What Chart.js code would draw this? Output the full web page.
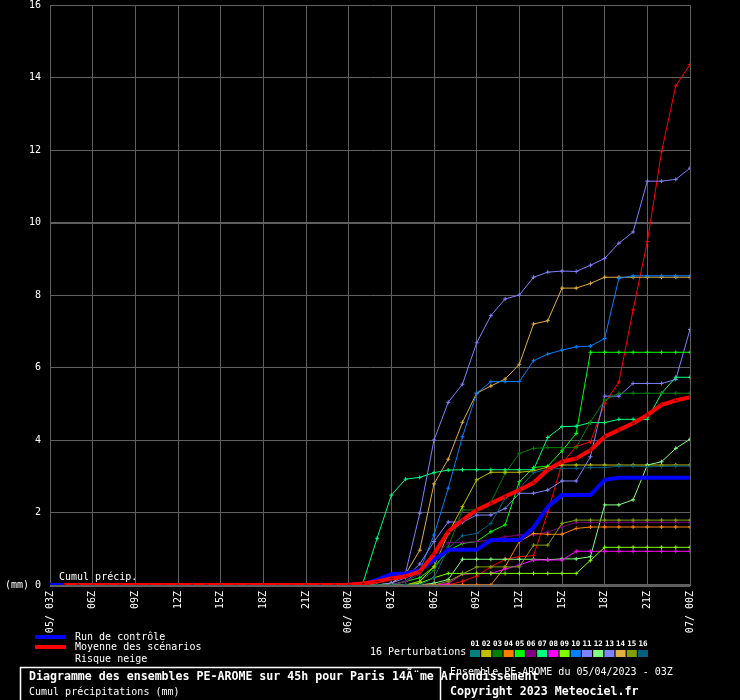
<!DOCTYPE html>
<html>
<head>
<meta charset="utf-8">
<script src="https://cdn.jsdelivr.net/npm/chart.js@4"></script>
<style>
  html, body { margin: 0; background: #000; }
  canvas { display: block; }
</style>
</head>
<body>
<canvas id="chart" width="740" height="700"></canvas>
<script>
// hours after 05/04 03Z
const hours = [0,1,2,3,4,5,6,7,8,9,10,11,12,13,14,15,16,17,18,19,20,21,22,23,24,25,26,27,28,29,30,31,32,33,34,35,36,37,38,39,40,41,42,43,44,45];
const tickLabels = ['05/ 03Z','06Z','09Z','12Z','15Z','18Z','21Z','06/ 00Z','03Z','06Z','09Z','12Z','15Z','18Z','21Z','07/ 00Z'];

// Moyenne des scénarios / Run de contrôle
const meanVals = [null,0,0,0,0,0,0,0,0,0,0,0,0,0,0,0,0,0,0,0,0, 0.01,0.04,0.1,0.18,0.24,0.37,0.85,1.47,1.79,2.07,2.25,2.44,2.62,2.82,3.18,3.4,3.49,3.72,4.09,4.28,4.46,4.69,4.97,5.09,5.18];
const controlVals = [0,0,0,0,0,0,0,0,0,0,0,0,0,0,0,0,0,0,0,0,0, 0,0.02,0.15,0.3,0.32,0.41,0.69,0.97,0.97,0.97,1.24,1.24,1.24,1.58,2.16,2.48,2.48,2.48,2.9,2.96,2.96,2.96,2.96,2.96,2.96];

// perturbations
const redVals = [0,0,0,0,0,0,0,0,0,0,0,0,0,0,0,0,0,0,0,0,0, 0,0,0,0,0,0,0,0,0.1,0.25,0.5,0.71,0.78,0.81,2.0,3.36,3.82,3.95,5.01,5.6,7.59,9.47,11.95,13.77,14.36];
const p02 = [0,0,0,0,0,0,0,0,0,0,0,0,0,0,0,0,0,0,0,0,0, 0,0,0,0,0,0.1,0.5,1.42,2.16,2.9,3.11,3.11,3.11,3.15,3.25,3.31,3.31,3.31,3.31,3.31,3.31,3.31,3.31,3.31,3.31];
const p03 = [0,0,0,0,0,0,0,0,0,0,0,0,0,0,0,0,0,0,0,0,0, 0,0,0,0,0,0.1,0.4,1.05,2.07,2.07,2.28,3.08,3.63,3.77,3.79,3.79,3.79,4.5,5.1,5.29,5.29,5.29,5.29,5.29,5.29];
const p04 = [0,0,0,0,0,0,0,0,0,0,0,0,0,0,0,0,0,0,0,0,0, 0,0,0,0,0,0,0,0,0,0,0,0.5,1.2,1.42,1.4,1.4,1.56,1.6,1.6,1.6,1.6,1.6,1.6,1.6,1.6];
const p05 = [0,0,0,0,0,0,0,0,0,0,0,0,0,0,0,0,0,0,0,0,0, 0,0,0,0,0.1,0.2,0.5,0.95,1.15,1.2,1.47,1.66,2.85,3.24,3.28,3.7,4.18,6.42,6.42,6.42,6.42,6.42,6.42,6.42,6.42];
const p06 = [0,0,0,0,0,0,0,0,0,0,0,0,0,0,0,0,0,0,0,0,0, 0,0,0,0,0.1,0.3,0.8,1.17,1.17,1.2,1.24,1.33,1.38,1.38,1.46,1.6,1.73,1.73,1.73,1.73,1.73,1.73,1.73,1.73,1.73];
const p07 = [0,0,0,0,0,0,0,0,0,0,0,0,0,0,0,0,0,0,0,0,0, 0,0.05,1.29,2.48,2.92,2.97,3.1,3.17,3.18,3.18,3.18,3.18,3.18,3.18,4.07,4.37,4.38,4.48,4.48,4.57,4.57,4.57,5.29,5.73,5.73];
const p08 = [0,0,0,0,0,0,0,0,0,0,0,0,0,0,0,0,0,0,0,0,0, 0,0,0,0,0,0,0,0.04,0.3,0.32,0.32,0.44,0.55,0.69,0.69,0.69,0.93,0.93,0.93,0.93,0.93,0.93,0.93,0.93,0.93];
const p09 = [0,0,0,0,0,0,0,0,0,0,0,0,0,0,0,0,0,0,0,0,0, 0,0,0,0,0,0.05,0.2,0.32,0.32,0.32,0.32,0.32,0.32,0.32,0.32,0.32,0.32,0.68,1.04,1.04,1.04,1.04,1.04,1.04,1.04];
const p10 = [0,0,0,0,0,0,0,0,0,0,0,0,0,0,0,0,0,0,0,0,0, 0,0,0,0,0.1,0.4,1.38,2.67,4.09,5.29,5.61,5.61,5.61,6.19,6.37,6.48,6.57,6.59,6.8,8.46,8.53,8.53,8.53,8.53,8.53];
const p11 = [0,0,0,0,0,0,0,0,0,0,0,0,0,0,0,0,0,0,0,0,0, 0,0,0,0.05,0.33,1.98,4.0,5.04,5.54,6.68,7.43,7.89,8.0,8.49,8.63,8.66,8.65,8.82,9.01,9.43,9.74,11.14,11.14,11.19,11.5];
const p12 = [0,0,0,0,0,0,0,0,0,0,0,0,0,0,0,0,0,0,0,0,0, 0,0,0,0,0,0,0.05,0.15,0.71,0.71,0.71,0.71,0.71,0.71,0.7,0.72,0.72,0.78,2.21,2.21,2.35,3.31,3.4,3.77,4.02];
const p13 = [0,0,0,0,0,0,0,0,0,0,0,0,0,0,0,0,0,0,0,0,0, 0,0,0,0.05,0.2,0.58,1.2,1.74,1.73,1.93,1.93,2.11,2.53,2.53,2.62,2.87,2.87,3.54,5.21,5.21,5.56,5.56,5.56,5.67,7.05];
const p14 = [0,0,0,0,0,0,0,0,0,0,0,0,0,0,0,0,0,0,0,0,0, 0,0,0,0.05,0.3,0.96,2.79,3.47,4.49,5.29,5.49,5.68,6.09,7.2,7.29,8.19,8.19,8.32,8.49,8.49,8.49,8.49,8.49,8.49,8.49];
const p15 = [0,0,0,0,0,0,0,0,0,0,0,0,0,0,0,0,0,0,0,0,0, 0,0,0,0,0,0,0,0.1,0.3,0.5,0.5,0.5,0.5,1.1,1.1,1.7,1.79,1.79,1.79,1.79,1.79,1.79,1.79,1.79,1.79];
const p16 = [0,0,0,0,0,0,0,0,0,0,0,0,0,0,0,0,0,0,0,0,0, 0,0,0,0,0,0,0.2,1.01,1.36,1.42,1.7,2.39,2.66,3.1,3.19,3.22,3.22,3.24,3.24,3.28,3.28,3.26,3.27,3.28,3.28];

const memberColors = ['#008080','#c0c000','#008000','#ff8000','#00ff00','#800080','#00ff80','#ff00ff','#80ff00','#0080ff','#8080ff','#80ff80','#8080ff','#e0b040','#80a000','#006080'];
const memberNames = ['01','02','03','04','05','06','07','08','09','10','11','12','13','14','15','16'];

const MONO = '"DejaVu Sans Mono", monospace';

function pts(vals) {
    return hours.map((h, i) => ({ x: h, y: vals[i] }));
}

function member(vals, color) {
    return {
        data: pts(vals),
        borderColor: color,
        borderWidth: 1,
        pointStyle: 'cross',
        pointRadius: 2,
        pointBorderWidth: 1,
        pointBorderColor: color,
        order: 2
    };
}

const datasets = [
    {
        data: pts(meanVals),
        borderColor: '#ff0000',
        borderWidth: 4,
        pointStyle: 'cross',
        pointRadius: 2,
        pointBorderWidth: 1,
        pointBorderColor: '#900000',
        spanGaps: true,
        order: 0
    },
    {
        data: pts(controlVals),
        borderColor: '#0000ff',
        borderWidth: 4,
        pointRadius: 0,
        order: 1
    },
    member(p16, memberColors[15]),
    member(p15, memberColors[14]),
    member(p09, memberColors[8]),
    member(p08, memberColors[7]),
    member(p04, memberColors[3]),
    member(p06, memberColors[5]),
    member(p12, memberColors[11]),
    member(p02, memberColors[1]),
    member(p03, memberColors[2]),
    member(p05, memberColors[4]),
    member(p07, memberColors[6]),
    member(p13, memberColors[12]),
    member(p10, memberColors[9]),
    member(p14, memberColors[13]),
    member(p11, memberColors[10]),
    member(redVals, '#ff0000')
];

// background + texts below the plot
const decor = {
    id: 'decor',
    beforeDraw(chart) {
        const c = chart.ctx;
        c.save();
        c.fillStyle = '#000';
        c.fillRect(0, 0, chart.width, chart.height);
        c.restore();
    },
    afterDraw(chart) {
        const c = chart.ctx;
        c.save();
        c.fillStyle = '#fff';
        c.textBaseline = 'middle';
        c.textAlign = 'left';
        c.font = '10px ' + MONO;
        c.fillText('Cumul précip.', 59, 577);

        // legend
        c.fillStyle = '#0000ff';
        c.fillRect(35, 635, 31, 4);
        c.fillStyle = '#ff0000';
        c.fillRect(35, 645, 31, 4);
        c.fillStyle = '#fff';
        c.fillText('Run de contrôle', 75, 637);
        c.fillText('Moyenne des scénarios', 75, 647);
        c.fillText('Risque neige', 75, 659);
        c.fillText('16 Perturbations', 370, 652);

        c.textAlign = 'center';
        c.font = 'bold 7.5px ' + MONO;
        memberColors.forEach((col, i) => {
            const x = 470 + i * 11.2;
            c.fillStyle = col;
            c.fillRect(x, 650, 10, 7);
            c.fillStyle = '#fff';
            c.fillText(memberNames[i], x + 5, 644);
        });

        // title box
        c.textAlign = 'left';
        c.strokeStyle = '#fff';
        c.lineWidth = 1.5;
        c.strokeRect(20.5, 667.5, 420, 40);
        c.fillStyle = '#fff';
        c.font = '10px ' + MONO;
        c.fillText('Ensemble PE-AROME du 05/04/2023 - 03Z', 450, 672);
        c.font = 'bold 11.6px ' + MONO;
        c.fillText('Diagramme des ensembles PE-AROME sur 45h pour Paris 14Ã¨me Arrondissement', 29, 677);
        c.fillText('Copyright 2023 Meteociel.fr', 450, 692);
        c.font = '10px ' + MONO;
        c.fillText('Cumul précipitations (mm)', 29, 692);
        c.restore();
    }
};

new Chart(document.getElementById('chart'), {
    type: 'line',
    data: { datasets: datasets },
    options: {
        responsive: false,
        animation: false,
        devicePixelRatio: 1,
        layout: { padding: { left: 0, right: 50, top: 5, bottom: 0 } },
        plugins: { legend: { display: false }, tooltip: { enabled: false } },
        elements: { line: { tension: 0 } },
        scales: {
            x: {
                type: 'linear',
                min: 0,
                max: 45,
                grid: { color: '#606060', lineWidth: 1, drawTicks: false },
                border: { color: '#606060' },
                ticks: {
                    stepSize: 3,
                    autoSkip: false,
                    minRotation: 90,
                    maxRotation: 90,
                    padding: 6,
                    color: '#fff',
                    font: { family: MONO, size: 10 },
                    callback: v => tickLabels[v / 3]
                },
                afterFit(scale) {
                    scale.height = 115;
                    scale.paddingLeft = 0;
                    scale.paddingRight = 0;
                }
            },
            y: {
                min: 0,
                max: 16,
                grid: {
                    color: '#606060',
                    drawTicks: false,
                    lineWidth: ctx => ctx.tick.value === 0 ? 3 : (ctx.tick.value === 10 ? 2 : 1)
                },
                border: { color: '#606060' },
                ticks: {
                    stepSize: 2,
                    padding: 9,
                    color: '#fff',
                    font: { family: MONO, size: 10 },
                    callback: v => v === 0 ? '(mm) 0' : v
                },
                afterFit(scale) {
                    scale.width = 50;
                    scale.paddingTop = 0;
                    scale.paddingBottom = 0;
                }
            }
        }
    },
    plugins: [decor]
});
</script>
</body>
</html>
